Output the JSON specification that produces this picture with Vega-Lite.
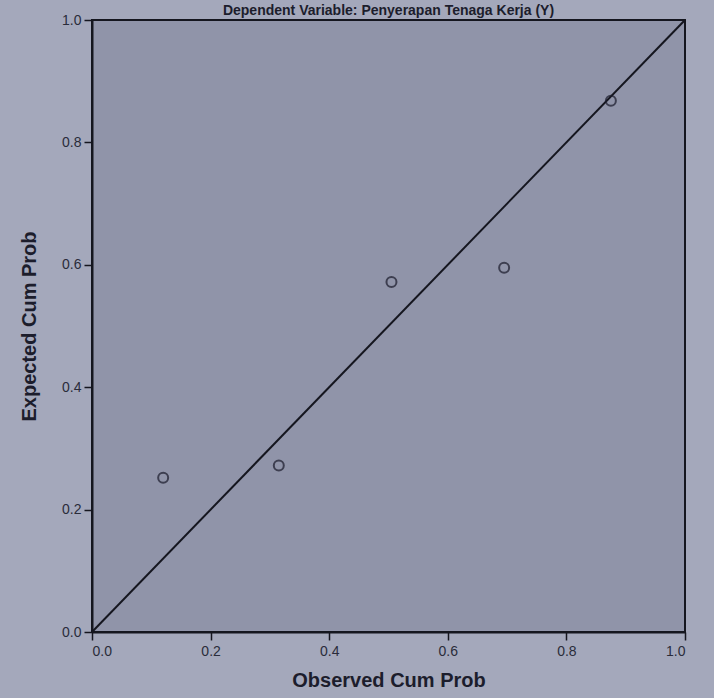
{
  "$schema": "https://vega.github.io/schema/vega-lite/v6.json",
  "autosize": "none",
  "padding": {"left": 92, "top": 20, "right": 29, "bottom": 66},
  "width": 593,
  "height": 612,
  "background": "#a4a8bb",
  "title": {"text": "Dependent Variable: Penyerapan Tenaga Kerja (Y)", "fontSize": 14, "font": "Liberation Sans", "fontWeight": "bold", "color": "#1c1d2c", "offset": -5, "anchor": "middle"},
  "config": {
    "view": {"fill": "#9094a9", "stroke": "#15161f", "strokeWidth": 2},
    "axis": {"grid": false, "domainColor": "#15161f", "domainWidth": 2, "tickColor": "#15161f", "tickSize": 8, "tickWidth": 1.5, "labelFont": "Liberation Sans", "labelFontSize": 14, "labelColor": "#2a2c3a", "titleFont": "Liberation Sans", "titleFontSize": 20, "titleFontWeight": "bold", "titleColor": "#1c1d2c"}
  },
  "layer": [
    {
      "data": {"values": [{"obs": 0, "exp": 0}, {"obs": 1, "exp": 1}]},
      "mark": {"type": "line", "color": "#15161f", "strokeWidth": 2},
      "encoding": {
        "x": {"field": "obs", "type": "quantitative", "scale": {"domain": [0, 1], "nice": false}, "axis": {"title": "Observed Cum Prob", "format": ".1f", "values": [0, 0.2, 0.4, 0.6, 0.8, 1.0], "titlePadding": 12, "labelPadding": 4}},
        "y": {"field": "exp", "type": "quantitative", "scale": {"domain": [0, 1], "nice": false}, "axis": {"title": "Expected Cum Prob", "format": ".1f", "values": [0, 0.2, 0.4, 0.6, 0.8, 1.0], "titlePadding": 22, "labelPadding": 3}}
      }
    },
    {
      "data": {"values": [
        {"obs": 0.12, "exp": 0.252},
        {"obs": 0.315, "exp": 0.272},
        {"obs": 0.505, "exp": 0.572},
        {"obs": 0.695, "exp": 0.595},
        {"obs": 0.875, "exp": 0.868}
      ]},
      "mark": {"type": "point", "shape": "circle", "filled": false, "size": 100, "stroke": "#1a1b2b", "strokeWidth": 2},
      "encoding": {
        "x": {"field": "obs", "type": "quantitative"},
        "y": {"field": "exp", "type": "quantitative"}
      }
    }
  ]
}
